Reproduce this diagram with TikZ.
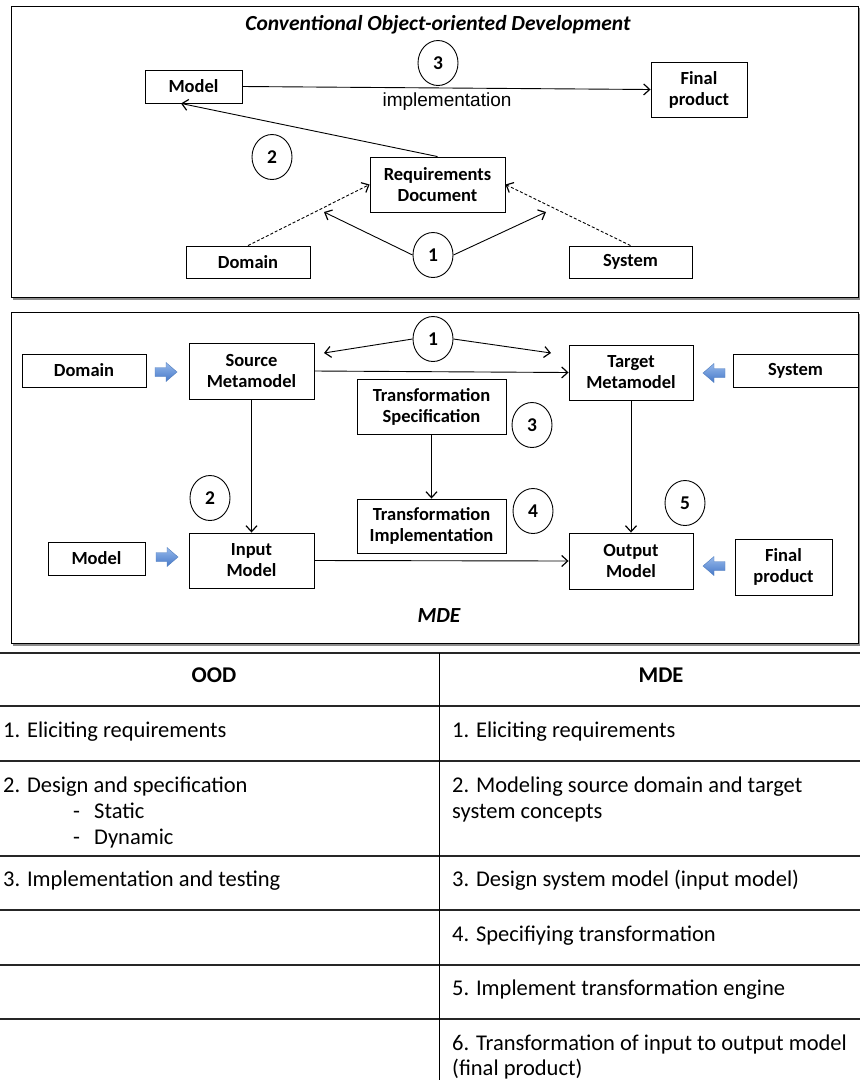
\documentclass[tikz,border=0pt]{standalone}
\usepackage{fontspec}
\setmainfont{Carlito}
\newfontfamily\arialfont{Liberation Sans}
\usetikzlibrary{arrows.meta,shapes.geometric}
\definecolor{arrowtop}{RGB}{150,185,235}
\definecolor{arrowbot}{RGB}{70,120,200}
\definecolor{arrowline}{RGB}{80,125,190}
\begin{document}
\begin{tikzpicture}[x=1pt,y=-1pt,
  box/.style={draw,line width=0.9pt,inner sep=0pt,align=center,
    font=\fontsize{18.5}{21}\selectfont\bfseries},
  num/.style={draw,ellipse,line width=0.9pt,minimum width=40pt,minimum height=45pt,
    inner sep=0pt,font=\fontsize{19.5}{22}\selectfont\bfseries},
  arr/.style={line width=0.9pt,-{Straight Barb[length=6pt,width=11pt,line width=1.2pt]}},
  dash arr/.style={arr,dashed,dash pattern=on 3pt off 2pt},
  frame/.style={draw,line width=1pt},
  shadowline/.style={draw=black!45,line width=2pt},
  tabtext/.style={anchor=base west,inner sep=0pt,font=\fontsize{22.5}{26}\selectfont},
  tabhead/.style={anchor=base,inner sep=0pt,font=\fontsize{22.5}{26}\selectfont\bfseries},
  hrule/.style={line width=1.5pt,draw=black!85},
  vrule/.style={line width=1pt},
  bluearr/.pic={
    \shade[top color=arrowtop,bottom color=arrowbot,draw=arrowline,line width=0.4pt]
      (-11,-4.5) -- (0,-4.5) -- (0,-9.5) -- (11,0) -- (0,9.5) -- (0,4.5) -- (-11,4.5) -- cycle;}
]
\useasboundingbox (0,0) rectangle (860,1080);
\fill[white] (0,0) rectangle (860,1080);

% ---------- conventional object-oriented development ----------
\draw[shadowline] (13,298.5) -- (859.5,298.5) -- (859.5,8);
\draw[frame] (11,6) rectangle (858,297);
\node[font=\fontsize{21.5}{24}\selectfont\bfseries\itshape] (title1) at (438,25)
  {Conventional Object-oriented Development};

\node[box,minimum width=97pt,minimum height=33pt] (m1) at (193.5,86.5) {Model};
\node[box,minimum width=96pt,minimum height=55pt] (fp1) at (699,89.5) {Final\\product};
\node[num] (c3a) at (438,63) {3};
\node[font=\arialfont\fontsize{19}{22}\selectfont] (impl1) at (447,102) {implementation};
\node[box,minimum width=135pt,minimum height=55pt] (req) at (437.5,184.5) {Requirements\\Document};
\node[num] (c2a) at (272,157) {2};
\node[box,minimum width=124pt,minimum height=32pt] (dom1) at (248,262) {Domain};
\node[box,minimum width=123pt,minimum height=32pt] (sys1) at (630.5,262) {System};
\node[num] (c1a) at (433,255) {1};
\coordinate (t1l) at (324,212);
\coordinate (t1r) at (546,212);

\draw[arr] (m1.east) -- (fp1.west);
\draw[arr] (req.north) -- ([xshift=-12.5pt]m1.south);
\draw[dash arr] (dom1.north) -- (req.west);
\draw[dash arr] (sys1.north) -- (req.east);
\draw[arr] (c1a.west) -- (t1l);
\draw[arr] (c1a.east) -- (t1r);

% ---------- model-driven engineering ----------
\draw[shadowline] (13,644.5) -- (859.5,644.5) -- (859.5,314);
\draw[frame] (11,312) rectangle (858,643);

\node[num] (c1b) at (433,339) {1};
\node[box,minimum width=125pt,minimum height=56pt] (src) at (251.5,371) {Source\\Metamodel};
\node[box,minimum width=124pt,minimum height=55pt] (tgt) at (631,372.5) {Target\\Metamodel};
\node[box,minimum width=124pt,minimum height=33pt] (dom2) at (84,370.5) {Domain};
\node[box,minimum width=125pt,minimum height=33pt] (sys2) at (795.5,370.5) {System};
\node[box,minimum width=149pt,minimum height=55pt] (spec) at (431.5,406.5) {Transformation\\Specification};
\node[num] (c3b) at (532,425) {3};
\node[box,minimum width=149pt,minimum height=54pt] (impl) at (431.5,526) {Transformation\\Implementation};
\node[num] (c4b) at (533,511) {4};
\node[num] (c2b) at (210,498) {2};
\node[box,minimum width=125pt,minimum height=55pt] (inp) at (251.5,560.5) {Input\\Model};
\node[box,minimum width=97pt,minimum height=33pt] (mod2) at (96.5,558.5) {Model};
\node[box,minimum width=124pt,minimum height=56pt] (out) at (631,561) {Output\\Model};
\node[num] (c5b) at (685,503) {5};
\node[box,minimum width=97pt,minimum height=56pt] (fp2) at (783.5,567) {Final\\product};
\node[font=\fontsize{21.5}{24}\selectfont\bfseries\itshape] (mdelabel) at (439,616) {MDE};
\coordinate (t2l) at (324,353);
\coordinate (t2r) at (551,353);

\draw[arr] (src.east) -- (tgt.west);
\draw[arr] (c1b.west) -- (t2l);
\draw[arr] (c1b.east) -- (t2r);
\draw[arr] (src.south) -- (inp.north);
\draw[arr] (spec.south) -- (impl.north);
\draw[arr] (tgt.south) -- (out.north);
\draw[arr] (inp.east) -- (out.west);

\pic at (166,372) {bluearr};
\pic[xscale=-1] at (714,373) {bluearr};
\pic at (167,557) {bluearr};
\pic[xscale=-1] at (714,566) {bluearr};

% ---------- comparison table ----------
\foreach \yy in {653,706,761,856,910,965,1019}
  \draw[hrule] (0,\yy) -- (860,\yy);
\draw[vrule] (439,653) -- (439,1080);

\node[tabhead] (hood) at (214,682) {OOD};
\node[tabhead] (hmde) at (661,682) {MDE};

\node[tabtext] (o1) at (3,737) {1. Eliciting requirements};
\node[tabtext] (o2) at (3,792) {2. Design and specification};
\node[tabtext] (o2a) at (73,818) {\makebox[21pt][l]{-}Static};
\node[tabtext] (o2b) at (73,844) {\makebox[21pt][l]{-}Dynamic};
\node[tabtext] (o3) at (3,886) {3. Implementation and testing};

\node[tabtext] (r1) at (452,737) {1. Eliciting requirements};
\node[tabtext] (r2) at (452,792) {2. Modeling source domain and target};
\node[tabtext] (r2b) at (452,818) {system concepts};
\node[tabtext] (r3) at (452,886) {3. Design system model (input model)};
\node[tabtext] (r4) at (452,941) {4. Specifiying transformation};
\node[tabtext] (r5) at (452,995) {5. Implement transformation engine};
\node[tabtext] (r6) at (452,1050) {6. Transformation of input to output model};
\node[tabtext] (r6b) at (452,1075) {(final product)};
\end{tikzpicture}
\end{document}
